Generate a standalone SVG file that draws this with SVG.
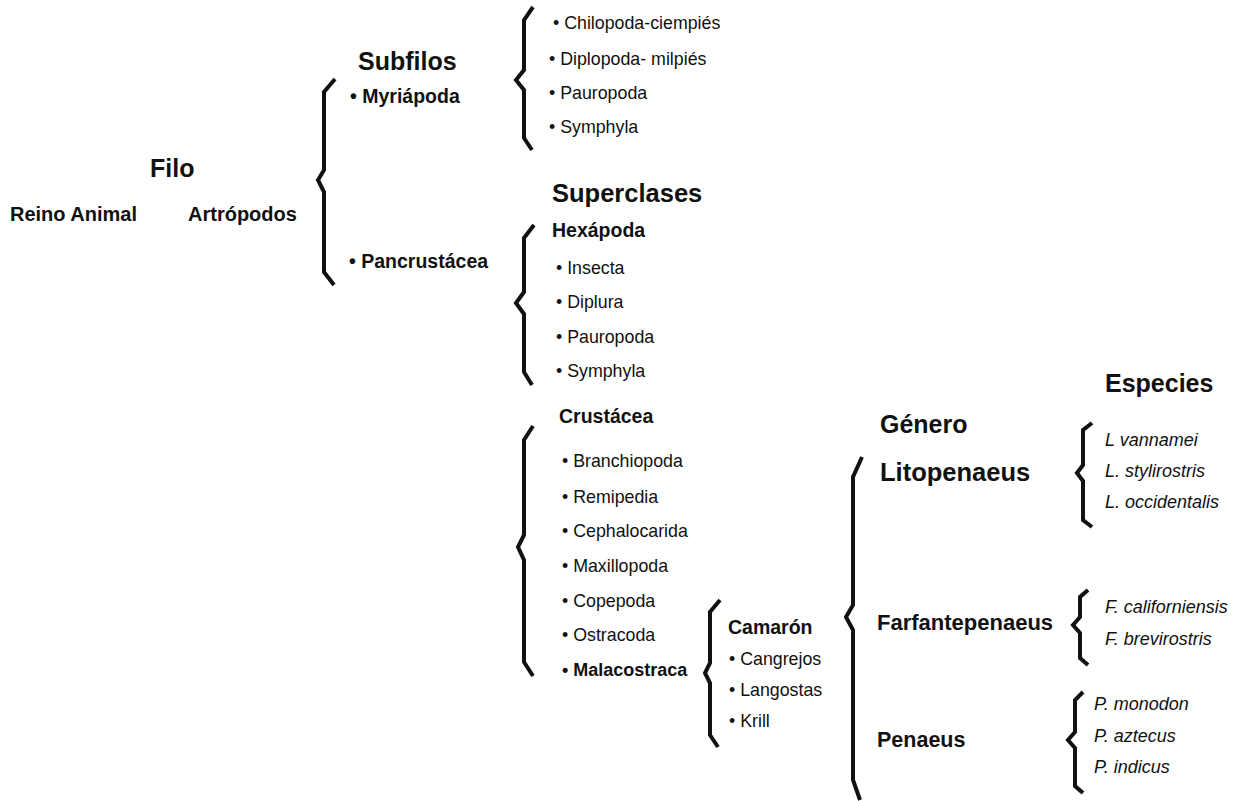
<svg xmlns="http://www.w3.org/2000/svg" width="1241" height="801" viewBox="0 0 1241 801">
<style>
text{font-family:"Liberation Sans",Arial,Helvetica,sans-serif;fill:#111}
.h{font-weight:bold;font-size:25px}
.b{font-weight:bold;font-size:19.5px}
.r{font-size:17.8px}
.i{font-style:italic;font-size:18px}
.br{fill:none;stroke:#111;stroke-width:4;stroke-linejoin:miter}
</style>
<rect width="1241" height="801" fill="#fff"/>
<g id="connectors">
<path class="br" d="M335,79 L324,92 L324,170 L318,180 L324,192 L324,272 L334,285"/>
<path class="br" d="M533,7 L524,20 L524,70 L516,80 L524,90 L524,138 L532,150"/>
<path class="br" d="M534,225 L524,238 L524,292 L516,303 L524,314 L524,372 L532,385"/>
<path class="br" d="M533,426 L524,440 L524,535 L518,547 L524,560 L524,662 L533,676"/>
<path class="br" d="M720,600 L710,612 L710,663 L705,673 L710,683 L710,735 L718,747"/>
<path class="br" d="M862,457 L853,477 L853,605 L846,617 L853,630 L853,780 L860,800"/>
<path class="br" d="M1092,423 L1083,430 L1083,465 L1077,473 L1083,481 L1083,520 L1092,527"/>
<path class="br" d="M1088,590 L1080,597 L1080,617 L1073,625 L1080,633 L1080,658 L1088,665"/>
<path class="br" d="M1083,692 L1075,700 L1075,732 L1068,740 L1075,748 L1075,786 L1083,793"/>
</g>
<g id="reino"><text class="b" x="10" y="221" style="font-size:20px">Reino Animal</text></g>
<g id="filo"><text class="h" x="150" y="177">Filo</text><text class="b" x="188" y="221" style="font-size:20px">Artrópodos</text></g>
<g id="subfilos"><text class="h" x="358" y="70">Subfilos</text>
<text class="b" x="350" y="103">• Myriápoda</text>
<text class="b" x="349" y="268">• Pancrustácea</text></g>
<g id="myriapoda"><text class="r" x="553" y="29">• Chilopoda-ciempiés</text>
<text class="r" x="549" y="65">• Diplopoda- milpiés</text>
<text class="r" x="549" y="99">• Pauropoda</text>
<text class="r" x="549" y="133">• Symphyla</text></g>
<g id="superclases"><text class="h" x="552" y="202" style="font-size:25.5px">Superclases</text></g>
<g id="hexapoda"><text class="b" x="552" y="237">Hexápoda</text>
<text class="r" x="556" y="274">• Insecta</text>
<text class="r" x="556" y="308">• Diplura</text>
<text class="r" x="556" y="343">• Pauropoda</text>
<text class="r" x="556" y="377">• Symphyla</text></g>
<g id="crustacea"><text class="b" x="559" y="423">Crustácea</text>
<text class="r" x="562" y="467">• Branchiopoda</text>
<text class="r" x="562" y="503">• Remipedia</text>
<text class="r" x="562" y="537">• Cephalocarida</text>
<text class="r" x="562" y="572">• Maxillopoda</text>
<text class="r" x="562" y="607">• Copepoda</text>
<text class="r" x="562" y="641">• Ostracoda</text>
<text class="b" x="562" y="676" style="font-size:18px">• Malacostraca</text></g>
<g id="camaron"><text class="b" x="728" y="634">Camarón</text>
<text class="r" x="729" y="665">• Cangrejos</text>
<text class="r" x="729" y="696">• Langostas</text>
<text class="r" x="729" y="727">• Krill</text></g>
<g id="genero"><text class="h" x="880" y="433">Género</text>
<text class="h" x="880" y="481" style="font-size:25.5px">Litopenaeus</text>
<text class="b" x="877" y="630" style="font-size:22px">Farfantepenaeus</text>
<text class="b" x="877" y="747" style="font-size:21.5px">Penaeus</text></g>
<g id="especies"><text class="h" x="1105" y="392">Especies</text>
<text class="i" x="1105" y="446">L vannamei</text>
<text class="i" x="1105" y="477">L. stylirostris</text>
<text class="i" x="1105" y="508">L. occidentalis</text>
<text class="i" x="1105" y="613">F. californiensis</text>
<text class="i" x="1105" y="645">F. brevirostris</text>
<text class="i" x="1094" y="710">P. monodon</text>
<text class="i" x="1094" y="742">P. aztecus</text>
<text class="i" x="1094" y="773">P. indicus</text></g>
</svg>
